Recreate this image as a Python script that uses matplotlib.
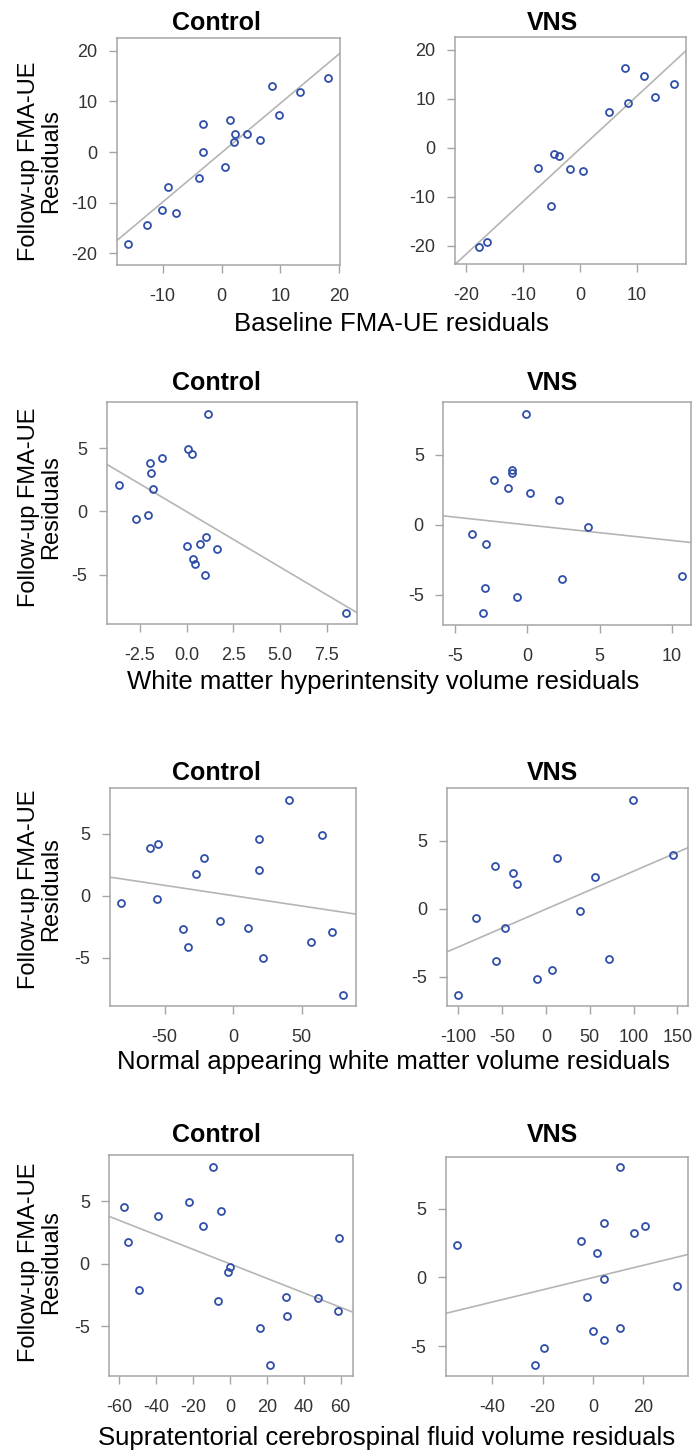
import numpy as np
import matplotlib
matplotlib.use('Agg')
import matplotlib.pyplot as plt

plt.rcParams['font.family'] = ['Liberation Sans', 'DejaVu Sans']
plt.rcParams['axes.unicode_minus'] = False

# ---- data (residuals) ----
# Row 1: baseline FMA-UE residuals
base_ctrl_x = [-15.8, -12.6, -10.1, -7.8, -9.1, -3.9, -3.1, -3.1, 0.6, 1.4, 2.1, 2.3, 4.4, 6.6, 8.6, 9.8, 13.3, 18.0]
base_ctrl_y = [-18.2, -14.4, -11.4, -12.0, -6.9, -5.1, 0.0, 5.6, -3.0, 6.25, 2.0, 3.55, 3.55, 2.4, 13.1, 7.4, 11.9, 14.6]
base_vns_x = [-17.7, -16.3, -7.4, -5.1, -4.6, -3.7, -1.8, 0.5, 5.1, 7.9, 8.4, 11.2, 13.2, 16.5]
base_vns_y = [-20.2, -19.2, -4.1, -12.0, -1.3, -1.6, -4.35, -4.7, 7.35, 16.3, 9.2, 14.7, 10.4, 12.9]

# Row 2: white matter hyperintensity volume residuals
wmh_ctrl_x = [-3.64, -2.70, -2.05, -1.98, -1.91, -1.82, -1.34, 0.09, 0.27, 1.13, 0.0, 0.32, 0.43, 0.71, 1.04, 0.96, 1.61, 8.52]
wmh_ctrl_y = [2.06, -0.63, -0.26, 3.85, 3.03, 1.74, 4.2, 4.9, 4.54, 7.73, -2.74, -3.77, -4.17, -2.61, -2.0, -5.07, -2.98, -8.05]
wmh_vns_x = [-0.07, -1.08, -1.08, -2.29, -1.31, 0.16, 2.2, 4.22, -3.85, -2.82, 2.39, 10.67, -2.94, -0.69, -3.03]
wmh_vns_y = [7.93, 3.9, 3.67, 3.17, 2.62, 2.29, 1.76, -0.14, -0.67, -1.40, -3.86, -3.64, -4.5, -5.14, -6.29]

# Row 3: normal appearing white matter volume residuals
nawm_ctrl_x = [-81.8, -60.6, -55.0, -55.2, -36.7, -33.1, -26.8, -21.2, -9.5, 10.7, 19.0, 19.0, 21.9, 41.1, 64.7, 57.2, 72.0, 80.5]
nawm_ctrl_y = [-0.62, 3.84, 4.19, -0.27, -2.72, -4.11, 1.72, 3.04, -2.02, -2.61, 4.54, 2.07, -5.05, 7.72, 4.89, -3.76, -2.96, -7.98]
nawm_vns_x = [-100.1, -80.3, -58.6, -57.1, -37.3, -32.7, -47.2, -10.7, 7.2, 12.6, 39.2, 55.6, 72.3, 98.9, 145.4]
nawm_vns_y = [-6.35, -0.66, 3.16, -3.87, 2.65, 1.79, -1.42, -5.15, -4.51, 3.70, -0.15, 2.33, -3.68, 7.99, 3.92]

# Row 4: supratentorial CSF volume residuals
csf_ctrl_x = [-57.4, -55.6, -49.2, -39.3, -22.1, -14.8, -9.4, -4.7, -6.3, -0.2, -0.9, 16.3, 21.7, 30.4, 31.1, 47.6, 58.5, 59.2]
csf_ctrl_y = [4.55, 1.70, -2.07, 3.83, 4.89, 3.0, 7.74, 4.2, -3.0, -0.24, -0.66, -5.13, -8.06, -2.63, -4.18, -2.77, -3.80, 2.07]
csf_vns_x = [-53.9, -23.0, -19.6, -4.8, -2.4, -0.1, 1.6, 4.4, 4.4, 4.4, 10.6, 10.6, 16.4, 20.5, 33.5]
csf_vns_y = [2.35, -6.36, -5.17, 2.67, -1.41, -3.88, 1.80, 3.96, -0.12, -4.54, 8.06, -3.69, 3.20, 3.74, -0.66]

row_xlabels = ['Baseline FMA-UE residuals',
               'White matter hyperintensity volume residuals',
               'Normal appearing white matter volume residuals',
               'Supratentorial cerebrospinal fluid volume residuals']

W, H = 692, 1452
fig = plt.figure(figsize=(W / 100, H / 100), dpi=100)

def px_axes(left, right, top, bottom):
    return fig.add_axes([left / W, 1 - bottom / H, (right - left) / W, (bottom - top) / H])

BLUE = '#2F4FA8'
GREY_LINE = '#B5B5B5'
SPINE = '#A5A5A5'
TICK = '#333333'

panels = [
    # (x, y, box px, xlim, xticks, ylim, yticks, xfmt)
    (base_ctrl_x, base_ctrl_y, (116.7, 340, 38, 265), (-17.8, 20.1), [-10, 0, 10, 20], (-22.3, 22.5), [-20, -10, 0, 10, 20], '%d'),
    (base_vns_x, base_vns_y, (455, 686, 36.7, 264.3), (-21.9, 18.6), [-20, -10, 0, 10], (-23.8, 22.65), [-20, -10, 0, 10, 20], '%d'),
    (wmh_ctrl_x, wmh_ctrl_y, (106.7, 357.3, 401.7, 624.3), (-4.29, 9.14), [-2.5, 0, 2.5, 5, 7.5], (-8.94, 8.68), [-5, 0, 5], '%.1f'),
    (wmh_vns_x, wmh_vns_y, (443.3, 691, 401.7, 625), (-5.8, 11.3), [-5, 0, 5, 10], (-7.17, 8.79), [-5, 0, 5], '%d'),
    (nawm_ctrl_x, nawm_ctrl_y, (110, 355.7, 788.3, 1006), (-89.8, 89.5), [-50, 0, 50], (-8.9, 8.66), [-5, 0, 5], '%d'),
    (nawm_vns_x, nawm_vns_y, (446.7, 688, 788.3, 1006), (-113.4, 162), [-100, -50, 0, 50, 100, 150], (-7.16, 8.85), [-5, 0, 5], '%d'),
    (csf_ctrl_x, csf_ctrl_y, (109.3, 352.7, 1155, 1376), (-65.5, 66.6), [-60, -40, -20, 0, 20, 40, 60], (-8.96, 8.67), [-5, 0, 5], '%d'),
    (csf_vns_x, csf_vns_y, (445.7, 688, 1156.7, 1375.7), (-58.5, 37.7), [-40, -20, 0, 20], (-7.16, 8.79), [-5, 0, 5], '%d'),
]

for i, (x, y, box, xlim, xticks, ylim, yticks, xfmt) in enumerate(panels):
    ax = px_axes(*box)
    x = np.array(x)
    y = np.array(y)
    slope, intercept = np.polyfit(x, y, 1)
    xx = np.array(xlim)
    ax.plot(xx, slope * xx + intercept, color=GREY_LINE, lw=1.2, zorder=1)
    ax.plot(x, y, 'o', mfc='none', mec=BLUE, mew=1.3, ms=5, zorder=2)
    ax.set_xlim(xlim)
    ax.set_ylim(ylim)
    ax.set_xticks(xticks)
    ax.set_yticks(yticks)
    ax.set_xticklabels([xfmt % t for t in xticks])
    ax.tick_params(direction='out', length=6, width=1, color=SPINE,
                   labelsize=13, labelcolor=TICK)
    ax.tick_params(axis='x', pad=10.5)
    ax.tick_params(axis='y', pad=8)
    for s in ax.spines.values():
        s.set_color(SPINE)
        s.set_linewidth(1.1)

# titles
title_y = [23, 383, 773, 1135]
for ty in title_y:
    fig.text(216 / W, 1 - ty / H, 'Control', ha='center', va='center', fontsize=18, fontweight='bold')
    fig.text(552 / W, 1 - ty / H, 'VNS', ha='center', va='center', fontsize=18, fontweight='bold')

# y labels
ylab_y = [161, 507, 889, 1262]
for yy in ylab_y:
    fig.text(40 / W, 1 - yy / H, 'Follow-up FMA-UE\nResiduals', rotation=90,
             ha='center', va='center', fontsize=17, linespacing=1.05, multialignment='center')

# x labels
xlab_pos = [(391, 324), (383, 682), (393, 1062), (387, 1438)]
for (lx, ly), lab in zip(xlab_pos, row_xlabels):
    fig.text(lx / W, 1 - ly / H, lab, ha='center', va='center', fontsize=18.5)

fig.savefig('out.png', dpi=100)
